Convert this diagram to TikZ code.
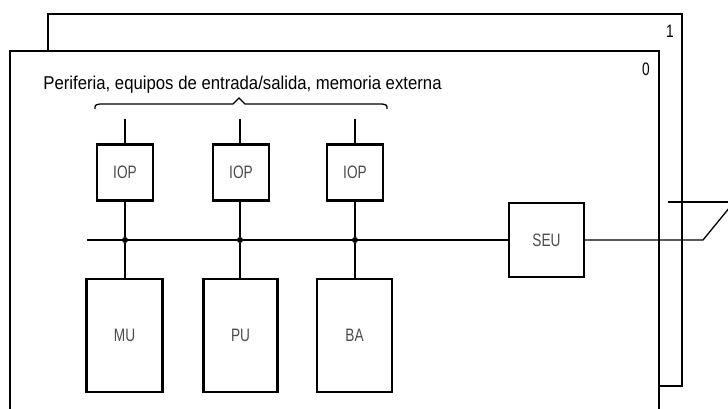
\documentclass[tikz,border=0pt]{standalone}
\usepackage{fontspec}
\setmainfont{Liberation Sans}
\newfontfamily\condfont[FakeStretch=0.76]{Liberation Sans}
\newfontfamily\titlefont[FakeStretch=0.9]{Liberation Sans}
\begin{document}
\begin{tikzpicture}[x=1pt,y=-1pt,
  frame/.style={line width=2.8pt},
  unit/.style={draw,line width=2.4pt,minimum width=56pt,minimum height=56pt,inner sep=0pt,
    font=\condfont\fontsize{18}{18}\selectfont,text=black!70},
  wire/.style={line width=1.3pt},
  junction/.style={circle,fill,inner sep=0pt,minimum size=6pt},
  lbl/.style={inner sep=0pt,font=\condfont\fontsize{18}{18}\selectfont}]
\useasboundingbox (0,0) rectangle (728,409);
\clip (0,0) rectangle (728,409);
% back frame (sheet 1)
\draw[frame,fill=white] (48,14) rectangle (682,386);
% front frame (sheet 0)
\fill[white] (10,51) rectangle (659,430);
\draw[frame] (10,430) -- (10,51) -- (659,51) -- (659,430);
\node[lbl] (n1) at (670,31) {1};
\node[lbl] (n0) at (646,69) {0};
% title and brace
\node[inner sep=0pt,font=\titlefont\fontsize{18.6}{19}\selectfont,anchor=center] (title) at (242.5,85)
  {Periferia, equipos de entrada/salida, memoria externa};
\draw[wire] (95,109) .. controls (95,105) .. (100,104) -- (233,104) -- (239,98) -- (245,104)
  -- (382,104) .. controls (387,105) .. (387,109);
% IOP units
\node[unit] (iop1) at (125,172.5) {IOP};
\node[unit] (iop2) at (241,172.5) {IOP};
\node[unit] (iop3) at (355,172.5) {IOP};
% lower units
\node[unit,minimum width=76pt,minimum height=113pt] (mu) at (124.5,335.5) {MU};
\node[unit,minimum width=74pt,minimum height=113pt] (pu) at (240.5,335.5) {PU};
\node[unit,minimum width=75pt,minimum height=113pt] (ba) at (354.5,335.5) {BA};
% SEU
\node[unit,minimum width=75pt,minimum height=74pt] (seu) at (546.5,240) {SEU};
% inputs from periphery
\coordinate (in1) at (125,119);
\coordinate (in2) at (240,119);
\coordinate (in3) at (355,119);
\draw[wire] (in1) -- (iop1.north);
\draw[wire] (in2) -- (in2 |- iop2.north);
\draw[wire] (in3) -- (iop3.north);
% bus
\coordinate (busL) at (87,240);
\draw[wire] (busL) -- (seu.west);
\node[junction] (j1) at (125,240) {};
\node[junction] (j2) at (240,240) {};
\node[junction] (j3) at (355,240) {};
\draw[wire] (iop1.south) -- (j1) -- (j1 |- mu.north);
\draw[wire] (j2 |- iop2.south) -- (j2) -- (j2 |- pu.north);
\draw[wire] (iop3.south) -- (j3) -- (j3 |- ba.north);
% link to the other sheet
\coordinate (bend) at (703,240);
\coordinate (out) at (730,207);
\draw[wire] (seu.east) -- (bend) -- (out);
\coordinate (s1) at (668,202);
\coordinate (s2) at (730,202);
\draw[wire] (s1) -- (s2);
\end{tikzpicture}
\end{document}
